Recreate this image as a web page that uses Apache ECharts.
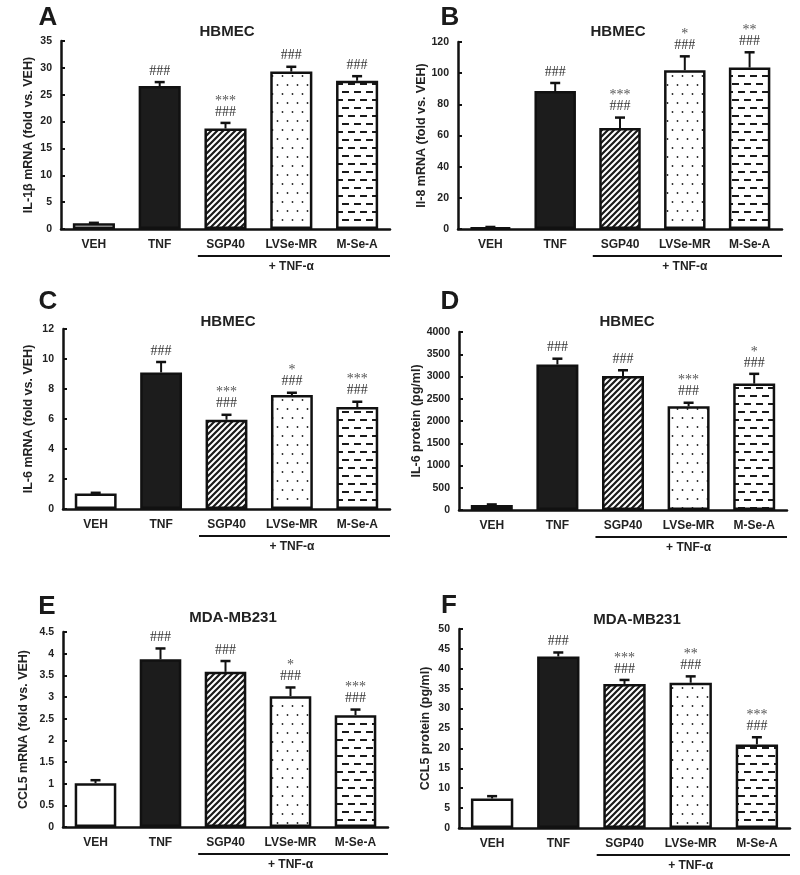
<!DOCTYPE html>
<html><head><meta charset="utf-8">
<script src="https://cdn.jsdelivr.net/npm/echarts@6/dist/echarts.min.js"></script>
<style>html,body{margin:0;padding:0;background:#fff}#c{width:800px;height:875px}</style>
</head><body><div id="c"></div>
<script>
// ---------- DATA ----------
const categories = ['VEH', 'TNF', 'SGP40', 'LVSe-MR', 'M-Se-A'];
const groupLabel = '+ TNF-α';

const aMean = [1.05, 26.6, 18.7, 29.3, 27.6];
const aErr = [0.1, 0.75, 1.05, 0.9, 0.85];
const aStars = ['', '', '***', '', ''];
const aHash = ['', '###', '###', '###', '###'];

const bMean = [1.0, 88.5, 64.8, 101.9, 103.6];
const bErr = [0.3, 5.2, 6.7, 8.9, 9.8];
const bStars = ['', '', '***', '*', '**'];
const bHash = ['', '###', '###', '###', '###'];

const cMean = [1.03, 9.1, 5.95, 7.6, 6.8];
const cErr = [0.05, 0.7, 0.33, 0.15, 0.35];
const cStars = ['', '', '***', '*', '***'];
const cHash = ['', '###', '###', '###', '###'];

const dMean = [110, 3270, 3010, 2330, 2840];
const dErr = [15, 130, 130, 80, 220];
const dStars = ['', '', '', '***', '*'];
const dHash = ['', '###', '###', '###', '###'];

const eMean = [1.01, 3.87, 3.58, 3.02, 2.58];
const eErr = [0.07, 0.25, 0.25, 0.2, 0.13];
const eStars = ['', '', '', '*', '***'];
const eHash = ['', '###', '###', '###', '###'];

const fMean = [7.4, 43.1, 36.2, 36.5, 21.0];
const fErr = [0.6, 1.0, 1.0, 1.6, 1.8];
const fStars = ['', '', '***', '**', '***'];
const fHash = ['', '###', '###', '###', '###'];

const panelLetters = ['A', 'B', 'C', 'D', 'E', 'F'];
const panelTitles = ['HBMEC', 'HBMEC', 'HBMEC', 'HBMEC', 'MDA-MB231', 'MDA-MB231'];
const yNames = ['IL-1β mRNA (fold vs. VEH)', 'Il-8 mRNA (fold vs. VEH)', 'IL-6 mRNA (fold vs. VEH)',
  'IL-6 protein (pg/ml)', 'CCL5 mRNA (fold vs. VEH)', 'CCL5 protein (pg/ml)'];
const yMax = [35, 120, 12, 4000, 4.5, 50];
const yStep = [5, 20, 2, 500, 0.5, 5];

const panels = [
  {mean: aMean, err: aErr, stars: aStars, hash: aHash},
  {mean: bMean, err: bErr, stars: bStars, hash: bHash},
  {mean: cMean, err: cErr, stars: cStars, hash: cHash},
  {mean: dMean, err: dErr, stars: dStars, hash: dHash},
  {mean: eMean, err: eErr, stars: eStars, hash: eHash},
  {mean: fMean, err: fErr, stars: fStars, hash: fHash}
];

// ---------- LAYOUT ----------
const grids = [
  {left: 61, top: 41, width: 329, height: 188},
  {left: 458, top: 42, width: 324, height: 187},
  {left: 63, top: 329, width: 327, height: 180},
  {left: 459, top: 332, width: 328, height: 178},
  {left: 63, top: 632, width: 325, height: 195},
  {left: 459, top: 629, width: 331, height: 199}
];
const nameGaps = [26, 26, 28, 20, 33, 27];
const letterPos = [[48, 18], [450, 18], [48, 302], [450, 302], [47, 607], [449, 606]];
const titlePos = [[227, 32], [618, 32], [228, 322], [627, 322], [233, 618], [637, 620]];

const SANS = '"Liberation Sans", Arial, sans-serif';
const SERIF = '"Liberation Serif", "Times New Roman", serif';

// ---------- PATTERNS ----------
function mkCanvas(w, h) {
  const c = document.createElement('canvas'); c.width = w; c.height = h;
  const ctx = c.getContext('2d'); ctx.fillStyle = '#fff'; ctx.fillRect(0, 0, w, h);
  return [c, ctx];
}
function diagPattern() {
  const s = 6; const [c, ctx] = mkCanvas(s, s);
  ctx.strokeStyle = '#1a1a1a'; ctx.lineWidth = 2.2; ctx.lineCap = 'square';
  ctx.beginPath();
  ctx.moveTo(0, s); ctx.lineTo(s, 0);
  ctx.moveTo(-s / 2, s / 2); ctx.lineTo(s / 2, -s / 2);
  ctx.moveTo(s / 2, s + s / 2); ctx.lineTo(s + s / 2, s / 2);
  ctx.stroke();
  return c;
}
function dotPattern() {
  const [c, ctx] = mkCanvas(10, 18);
  ctx.fillStyle = '#222';
  [[2.5, 4], [7.5, 13]].forEach(p => { ctx.beginPath(); ctx.arc(p[0], p[1], 0.9, 0, Math.PI * 2); ctx.fill(); });
  return c;
}
function dashPattern() {
  const [c, ctx] = mkCanvas(12, 16);
  ctx.fillStyle = '#1a1a1a';
  ctx.fillRect(0, 3, 7, 2);
  ctx.fillRect(6, 11, 6, 2);
  ctx.fillRect(0, 11, 1, 2);
  return c;
}
const fills = [
  '#ffffff',
  '#1c1c1c',
  {image: diagPattern(), repeat: 'repeat'},
  {image: dotPattern(), repeat: 'repeat'},
  {image: dashPattern(), repeat: 'repeat'}
];

// ---------- OPTION ----------
const option = {
  animation: false,
  backgroundColor: '#fff',
  grid: grids.map(g => Object.assign({containLabel: false}, g)),
  xAxis: grids.map((g, i) => ({
    type: 'category', gridIndex: i, data: categories,
    axisLine: {lineStyle: {color: '#111', width: 2.5}},
    axisTick: {show: false},
    axisLabel: {interval: 0, color: '#222', fontFamily: SANS, fontWeight: 'bold', fontSize: 12, margin: 10}
  })),
  yAxis: grids.map((g, i) => ({
    type: 'value', gridIndex: i, min: 0, max: yMax[i], interval: yStep[i],
    name: yNames[i], nameLocation: 'middle', nameGap: nameGaps[i], nameRotate: 90,
    nameTextStyle: {color: '#222', fontFamily: SANS, fontWeight: 'bold', fontSize: 12.5},
    axisLine: {show: true, lineStyle: {color: '#111', width: 2.5}},
    axisTick: {show: true, inside: true, length: 4, lineStyle: {color: '#111', width: 2}},
    splitLine: {show: false},
    axisLabel: {formatter: v => String(v), color: '#222', fontFamily: SANS, fontWeight: 'bold', fontSize: 10.5, margin: 9}
  })),
  series: []
};

panels.forEach((p, i) => {
  option.series.push({
    type: 'bar', xAxisIndex: i, yAxisIndex: i, barWidth: '64%',
    data: p.mean.map((v, k) => ({
      value: v,
      itemStyle: {color: fills[k], borderColor: '#111', borderWidth: 2.5}
    })),
    z: 2
  });
  option.series.push({
    type: 'custom', xAxisIndex: i, yAxisIndex: i, z: 3,
    data: p.mean.map((v, k) => [k, v, p.err[k]]),
    renderItem: function (params, api) {
      const k = params.dataIndex;
      const m = api.value(1), e = api.value(2);
      const base = api.coord([api.value(0), m]);
      const top = api.coord([api.value(0), m + e]);
      const x = base[0];
      const ch = [
        {type: 'line', shape: {x1: x, y1: base[1], x2: x, y2: top[1]}, style: {stroke: '#111', lineWidth: 2}},
        {type: 'line', shape: {x1: x - 5, y1: top[1], x2: x + 5, y2: top[1]}, style: {stroke: '#111', lineWidth: 2.5}}
      ];
      if (p.hash[k]) ch.push({type: 'text', style: {text: p.hash[k], x: x, y: top[1] - 11, align: 'center',
        verticalAlign: 'middle', fill: '#333', font: '14px ' + SERIF}});
      if (p.stars[k]) ch.push({type: 'text', style: {text: p.stars[k], x: x, y: top[1] - 22, align: 'center',
        verticalAlign: 'middle', fill: '#555', font: '14px ' + SERIF}});
      return {type: 'group', children: ch};
    }
  });
});

const chart = echarts.init(document.getElementById('c'), null, {renderer: 'canvas'});
chart.setOption(option);

// ---------- ANNOTATIONS ----------
const graphics = [];
grids.forEach((g, i) => {
  graphics.push({type: 'text', style: {text: panelLetters[i], x: letterPos[i][0], y: letterPos[i][1],
    align: 'center', verticalAlign: 'middle', fill: '#1a1a1a', font: 'bold 26px ' + SANS}});
  graphics.push({type: 'text', style: {text: panelTitles[i], x: titlePos[i][0], y: titlePos[i][1],
    align: 'center', verticalAlign: 'middle', fill: '#222', font: 'bold 15px ' + SANS}});
  const band = g.width / categories.length;
  const xs = chart.convertToPixel({xAxisIndex: i}, categories[2]);
  const xl = chart.convertToPixel({xAxisIndex: i}, categories[3]);
  const zero = chart.convertToPixel({yAxisIndex: i}, 0);
  graphics.push({type: 'line', shape: {x1: xs - band * 0.42, y1: zero + 27, x2: g.left + g.width, y2: zero + 27},
    style: {stroke: '#111', lineWidth: 2}});
  graphics.push({type: 'text', style: {text: groupLabel, x: xl, y: zero + 38,
    align: 'center', verticalAlign: 'middle', fill: '#222', font: 'bold 12px ' + SANS}});
});
chart.setOption({graphic: graphics});
</script></body></html>
